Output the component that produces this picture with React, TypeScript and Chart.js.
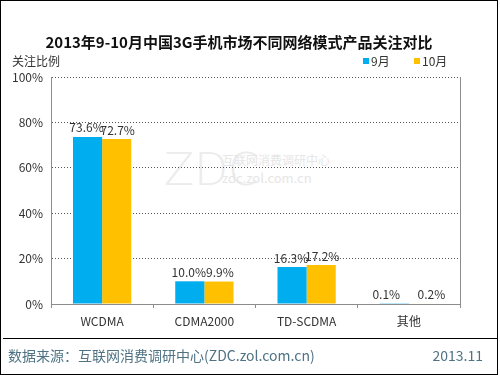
import React, { useEffect, useRef } from "react";
import { Chart, registerables } from "chart.js";

Chart.register(...registerables);

const categories = ["WCDMA", "CDMA2000", "TD-SCDMA", "其他"];
const sepValues = [73.6, 10.0, 16.3, 0.1];
const octValues = [72.7, 9.9, 17.2, 0.2];
const seriesNames = ["9月", "10月"];
const yTicks = [0, 20, 40, 60, 80, 100];
const titleText = "2013年9-10月中国3G手机市场不同网络模式产品关注对比";
const yTitle = "关注比例";
const sourceText = "数据来源：互联网消费调研中心(ZDC.zol.com.cn)";
const dateText = "2013.11";

const BLUE = "#00AEEF";
const YELLOW = "#FFC000";
const FONT = "'Noto Sans CJK SC', 'Noto Sans', sans-serif";

const labelPlugin = {
  id: "valueLabels",
  beforeDatasetsDraw(chart: any) {
    const ctx = chart.ctx;
    const a = chart.chartArea;
    ctx.save();
    ctx.strokeStyle = "#8c8c8c";
    ctx.lineWidth = 1;
    ctx.beginPath();
    ctx.moveTo(Math.round(a.right) + 0.5, a.top);
    ctx.lineTo(Math.round(a.right) + 0.5, a.bottom);
    ctx.stroke();
    ctx.restore();
  },
  afterDatasetsDraw(chart: any) {
    const ctx = chart.ctx;
    ctx.save();
    ctx.font = `12px ${FONT}`;
    ctx.fillStyle = "#333";
    ctx.textAlign = "center";
    ctx.textBaseline = "bottom";
    chart.data.datasets.forEach((ds: any, di: number) => {
      const meta = chart.getDatasetMeta(di);
      meta.data.forEach((bar: any, i: number) => {
        const shift = ds.data[i] < 1 ? (di === 0 ? -8 : 8) : di === 0 ? -1 : 1;
        ctx.fillText(ds.data[i].toFixed(1) + "%", bar.x + shift, bar.y - 3);
      });
    });
    ctx.restore();
  },
};

export default function App() {
  const ref = useRef<HTMLCanvasElement | null>(null);
  useEffect(() => {
    if (!ref.current) return;
    const chart = new Chart(ref.current, {
      type: "bar",
      data: {
        labels: categories,
        datasets: [
          { label: seriesNames[0], data: sepValues, backgroundColor: BLUE, borderWidth: 0 },
          { label: seriesNames[1], data: octValues, backgroundColor: YELLOW, borderWidth: 0 },
        ],
      },
      options: {
        animation: false,
        responsive: false,
        devicePixelRatio: 1,
        layout: { padding: { left: 0, top: 77, right: 40, bottom: 0 } },
        plugins: { legend: { display: false }, title: { display: false }, tooltip: { enabled: false } },
        datasets: { bar: { categoryPercentage: 0.57, barPercentage: 1 } } as any,
        scales: {
          x: {
            afterFit(s: any) { s.height = 71; },
            grid: { offset: true, drawOnChartArea: false, tickLength: 4, color: "#8c8c8c" },
            border: { color: "#8c8c8c" },
            ticks: { color: "#333", font: { family: FONT, size: 12 }, padding: 6 },
          },
          y: {
            min: 0,
            max: 100,
            afterFit(s: any) { s.width = 51; },
            afterBuildTicks(s: any) { s.ticks = yTicks.map((v) => ({ value: v })); },
            ticks: {
              color: "#333",
              font: { family: FONT, size: 12 },
              padding: 8,
              callback: (v: any) => v + "%",
            },
            grid: {
              color: (c: any) => (c.tick && c.tick.value === 0 ? "rgba(0,0,0,0)" : "#555"),
              drawTicks: false,
            },
            border: { color: "#8c8c8c", dash: [1, 2] },
          },
        },
      },
      plugins: [labelPlugin],
    } as any);
    return () => chart.destroy();
  }, []);

  const abs = (s: React.CSSProperties): React.CSSProperties => ({ position: "absolute", ...s });

  return (
    <div style={{ position: "fixed", left: 0, top: 0, width: 500, height: 375, background: "#fff", fontFamily: FONT }}>
      <div style={abs({ left: 0, top: 0, width: 496, height: 373, border: "1px solid #000" })} />
      {/* watermark */}
      <div style={abs({ left: 164, top: 140, fontSize: 44, color: "#ececec", fontFamily: "'DejaVu Sans', sans-serif", fontWeight: 200, lineHeight: "60px" })}>ZDC</div>
      <div style={abs({ left: 222, top: 152, fontSize: 12, color: "#e6e6e6", lineHeight: "16px", whiteSpace: "nowrap" })}>互联网消费调研中心</div>
      <div style={abs({ left: 222, top: 170, fontSize: 13, color: "#e6e6e6", lineHeight: "16px", whiteSpace: "nowrap" })}>zdc.zol.com.cn</div>
      <canvas ref={ref} width={500} height={375} style={abs({ left: 0, top: 0, width: 500, height: 375 })} />
      <div style={abs({ left: 0, top: 31, width: 478, textAlign: "center", fontSize: 15, fontWeight: "bold", color: "#111", lineHeight: "22px", whiteSpace: "nowrap" })}>{titleText}</div>
      <div style={abs({ left: 12, top: 53, fontSize: 12, color: "#333", lineHeight: "16px" })}>{yTitle}</div>
      <div style={abs({ left: 363, top: 53, fontSize: 12, color: "#333", lineHeight: "16px", display: "flex", alignItems: "center", whiteSpace: "nowrap" })}>
        <span style={{ display: "inline-block", width: 6, height: 6, background: BLUE, marginRight: 2 }} />
        {seriesNames[0]}
      </div>
      <div style={abs({ left: 414, top: 53, fontSize: 12, color: "#333", lineHeight: "16px", display: "flex", alignItems: "center", whiteSpace: "nowrap" })}>
        <span style={{ display: "inline-block", width: 6, height: 6, background: YELLOW, marginRight: 2 }} />
        {seriesNames[1]}
      </div>
      <div style={abs({ left: 3, top: 338, width: 494, height: 1, background: "#000" })} />
      <div style={abs({ left: 8, top: 345, fontSize: 14, color: "#4F7384", lineHeight: "20px", whiteSpace: "nowrap" })}>{sourceText}</div>
      <div style={abs({ left: 420, top: 345, width: 63, textAlign: "right", fontSize: 14, color: "#4F7384", lineHeight: "20px" })}>{dateText}</div>
    </div>
  );
}
